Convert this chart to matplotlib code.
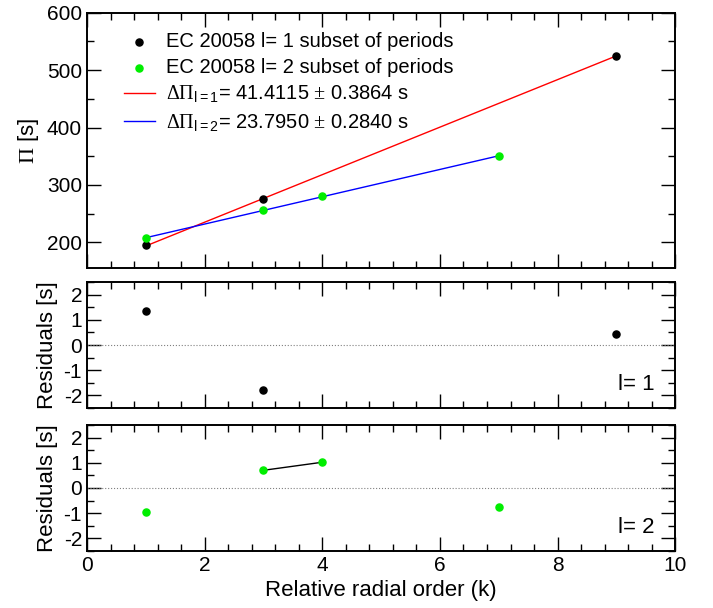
import matplotlib
matplotlib.use('Agg')
from matplotlib import pyplot as plt
from matplotlib.ticker import MultipleLocator
import numpy as np

plt.rcParams['font.family'] = ['Liberation Sans', 'DejaVu Sans']
plt.rcParams['mathtext.fontset'] = 'custom'
plt.rcParams['mathtext.rm'] = 'Liberation Serif'
plt.rcParams['mathtext.sf'] = 'Liberation Sans'
plt.rcParams['mathtext.it'] = 'Liberation Sans'
plt.rcParams['axes.unicode_minus'] = False

# l=1 modes
k_l1 = [1, 3, 9]
period_l1 = [195.0, 274.6, 525.4]
resid_l1 = [1.35, -1.80, 0.45]
# l=2 modes
k_l2 = [1, 3, 4, 7]
period_l2 = [207.2, 256.3, 280.4, 350.0]
resid_l2 = [-0.97, 0.70, 1.02, -0.75]

# linear fits (intercept, slope)
fit_l1 = (152.2, 41.4115)
fit_l2 = (184.2, 23.7950)

fig = plt.figure(figsize=(7.13, 6.08), dpi=100)
left, width = 0.122, 0.825
ax0 = fig.add_axes([left, 0.559, width, 0.420])
ax1 = fig.add_axes([left, 0.329, width, 0.207])
ax2 = fig.add_axes([left, 0.094, width, 0.207])

fs = 15
green = '#00ee00'

kk1 = np.array([k_l1[0], k_l1[-1]])
kk2 = np.array([k_l2[0], k_l2[-1]])
ax0.plot(kk1, fit_l1[0] + fit_l1[1] * kk1, color='red', lw=1,
         label=r'$\Delta\Pi_{\mathsf{l=1}}$= 41.4115 $\pm$ 0.3864 s')
ax0.plot(kk2, fit_l2[0] + fit_l2[1] * kk2, color='blue', lw=1,
         label=r'$\Delta\Pi_{\mathsf{l=2}}$= 23.7950 $\pm$ 0.2840 s')
ax0.scatter(k_l1, period_l1, s=26, color='black', zorder=3,
            label='EC 20058 l= 1 subset of periods')
ax0.scatter(k_l2, period_l2, s=26, color=green, zorder=3,
            label='EC 20058 l= 2 subset of periods')
h, l = ax0.get_legend_handles_labels()
order = [2, 3, 0, 1]
ax0.legend([h[i] for i in order], [l[i] for i in order], loc='upper left',
           frameon=False, fontsize=14.5, handlelength=1.55, borderaxespad=0.55,
           labelspacing=0.35, bbox_to_anchor=(0.03, 1.0), handletextpad=0.55)
ax0.set_ylim(155, 600)
ax0.set_ylabel(r'$\Pi$ [s]', fontsize=fs + 1)
ax0.yaxis.set_major_locator(MultipleLocator(100))
ax0.yaxis.set_minor_locator(MultipleLocator(50))
ax0.tick_params(labelbottom=False)

ax1.scatter(k_l1, resid_l1, s=26, color='black', zorder=3)
ax1.text(0.965, 0.1, 'l= 1', transform=ax1.transAxes, ha='right', va='bottom', fontsize=fs + 1)
ax1.tick_params(labelbottom=False)

ax2.plot(k_l2[1:3], resid_l2[1:3], color='black', lw=1)
ax2.scatter(k_l2, resid_l2, s=26, color=green, zorder=3)
ax2.text(0.965, 0.1, 'l= 2', transform=ax2.transAxes, ha='right', va='bottom', fontsize=fs + 1)
ax2.set_xlabel('Relative radial order (k)', fontsize=fs + 1)

for ax in (ax1, ax2):
    ax.axhline(0, color='gray', lw=0.8, ls=':')
    ax.set_ylim(-2.5, 2.5)
    ax.set_yticks([-2, -1, 0, 1, 2])
    ax.yaxis.set_minor_locator(MultipleLocator(0.5))
    ax.set_ylabel('Residuals [s]', fontsize=fs + 1)

for ax in (ax0, ax1, ax2):
    ax.set_xlim(0, 10)
    ax.xaxis.set_major_locator(MultipleLocator(2))
    ax.xaxis.set_minor_locator(MultipleLocator(0.4))
    ax.tick_params(which='both', direction='in', top=True, right=True, labelsize=fs)
    ax.tick_params(which='major', length=10, width=1)
    ax.tick_params(which='minor', length=5, width=1)
    for s in ax.spines.values():
        s.set_linewidth(1.4)

fig.align_ylabels([ax0, ax1, ax2])
fig.savefig('out.png', dpi=100)
